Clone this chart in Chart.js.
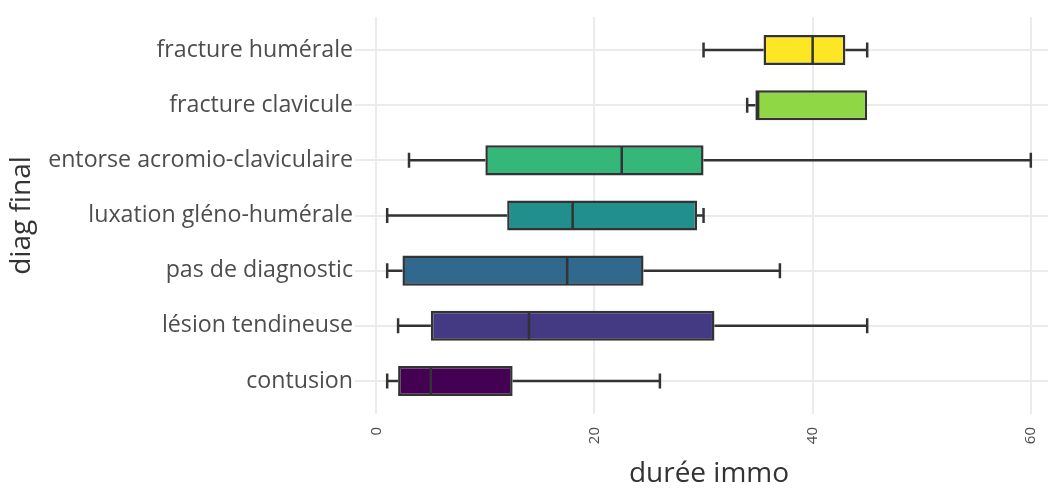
<!DOCTYPE html>
<html>
<head>
<meta charset="utf-8">
<script src="https://cdn.jsdelivr.net/npm/chart.js@4.4.1/dist/chart.umd.min.js"></script>
<style>
  html, body { margin: 0; padding: 0; overflow: hidden; background: #fff; width: 1048px; height: 489px; }
  #wrap { position: relative; width: 1063px; height: 489px; }
</style>
</head>
<body>
<div id="wrap"><canvas id="c"></canvas></div>
<script>
const categories = ["fracture humérale", "fracture clavicule", "entorse acromio-claviculaire", "luxation gléno-humérale", "pas de diagnostic", "lésion tendineuse", "contusion"];
const whiskerLow  = [30,   34,    3,    1,    1,    2,   1];
const q1          = [35.5, 34.75, 10,   12,   2.4,  5,   2];
const median      = [40,   35,    22.5, 18,   17.5, 14,  5];
const q3          = [43,   45,    30,   29.4, 24.5, 31,  12.5];
const whiskerHigh = [45,   45,    60,   30,   37,   45,  26];
const boxColors = ["#FDE725", "#8FD744", "#35B779", "#21908C", "#31688E", "#443A83", "#440154"];
const xTicks = [0, 20, 40, 60];
const xTitle = "durée immo";
const yTitle = "diag final";

const FONT = "'Open Sans', 'DejaVu Sans', sans-serif";

const boxData = categories.map((c, i) => ({ y: i, x: [q1[i], q3[i]] }));

const whiskerPlugin = {
  id: 'whiskers',
  afterDatasetsDraw(chart) {
    const { ctx, scales: { x, y } } = chart;
    const meta = chart.getDatasetMeta(0);
    ctx.save();
    ctx.strokeStyle = '#333333';
    ctx.lineWidth = 2.5;
    meta.data.forEach((bar, i) => {
      const h = bar.getProps(['height'], true).height;
      const cy = y.getPixelForValue(i);
      const xl = x.getPixelForValue(whiskerLow[i]);
      const xa = x.getPixelForValue(q1[i]);
      const xm = x.getPixelForValue(median[i]);
      const xb = x.getPixelForValue(q3[i]);
      const xh = x.getPixelForValue(whiskerHigh[i]);
      ctx.beginPath();
      if (xa - xl > 1) {
        ctx.moveTo(xl, cy); ctx.lineTo(xa, cy);
        ctx.moveTo(xl, cy - h / 4); ctx.lineTo(xl, cy + h / 4);
      }
      if (xh - xb > 1) {
        ctx.moveTo(xb, cy); ctx.lineTo(xh, cy);
        ctx.moveTo(xh, cy - h / 4); ctx.lineTo(xh, cy + h / 4);
      }
      ctx.moveTo(xm, cy - h / 2 + 1); ctx.lineTo(xm, cy + h / 2 - 1);
      ctx.stroke();
    });
    ctx.restore();
  }
};

new Chart(document.getElementById('c'), {
  type: 'bar',
  data: {
    datasets: [{
      data: boxData,
      backgroundColor: boxColors,
      borderColor: '#333333',
      borderWidth: 2.5,
      borderSkipped: false,
      categoryPercentage: 1,
      barPercentage: 0.545
    }]
  },
  options: {
    indexAxis: 'y',
    responsive: true,
    maintainAspectRatio: false,
    animation: false,
    events: [],
    layout: { padding: { top: 17, right: 0, bottom: 0, left: 0 } },
    plugins: { legend: { display: false }, tooltip: { enabled: false } },
    scales: {
      x: {
        type: 'linear',
        position: 'bottom',
        offset: false,
        min: -1.95,
        max: 62.95,
        afterBuildTicks: (s) => { s.ticks = xTicks.map(v => ({ value: v })); },
        afterFit: (s) => { s.height = 75; },
        border: { display: false },
        grid: { color: '#ebebeb', lineWidth: 2, drawTicks: false, offset: false },
        ticks: {
          autoSkip: false, minRotation: 90, maxRotation: 90, padding: 13,
          color: '#4d4d4d', font: { family: FONT, size: 15 }
        },
        title: {
          display: true, text: xTitle, color: '#333333',
          font: { family: FONT, size: 28, lineHeight: 1 }, padding: { top: 0, bottom: 1 }
        }
      },
      y: {
        type: 'linear',
        reverse: true,
        offset: false,
        min: -0.6,
        max: 6.6,
        afterBuildTicks: (s) => { s.ticks = categories.map((c, i) => ({ value: i })); },
        afterFit: (s) => { s.width = 355; },
        border: { display: false },
        grid: { color: '#ebebeb', lineWidth: 2, drawTicks: false, offset: false },
        ticks: {
          autoSkip: false, padding: 2, color: '#4d4d4d',
          font: { family: FONT, size: 23.2 },
          callback: (v) => categories[v]
        },
        title: {
          display: true, text: yTitle, color: '#333333',
          font: { family: FONT, size: 28, lineHeight: 1 }, padding: { top: 8, bottom: 0 }
        }
      }
    }
  },
  plugins: [whiskerPlugin]
});
</script>
</body>
</html>
